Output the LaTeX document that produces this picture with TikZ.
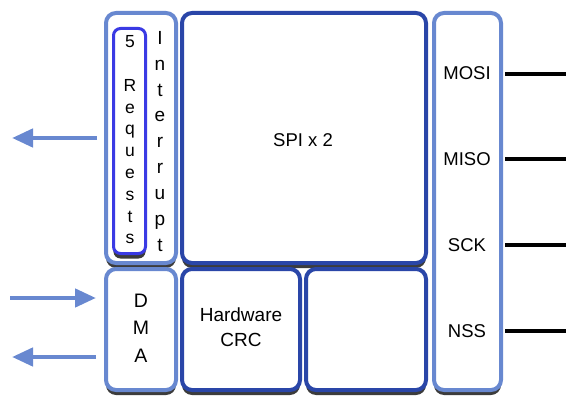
\documentclass[tikz,border=0pt]{standalone}
\usepackage{fontspec}
\setmainfont{Liberation Sans}
\usetikzlibrary{arrows.meta,shadows}
\definecolor{lightblue}{RGB}{104,136,208}
\definecolor{darkblue}{RGB}{42,70,168}
\definecolor{reqblue}{RGB}{58,58,228}
\definecolor{shadowgray}{RGB}{60,60,60}
\tikzset{
  box/.style={draw, line width=4pt, rounded corners=10pt, fill=white,
    drop shadow={shadow xshift=0pt, shadow yshift=-5pt, fill=shadowgray, opacity=1},
    inner sep=0pt, align=center},
  lbox/.style={box, draw=lightblue},
  dbox/.style={box, draw=darkblue},
  txt/.style={font=\fontsize{18.5}{20}\selectfont, align=center, inner sep=0pt},
  pin/.style={line width=4pt, black},
  bigarrow/.style={line width=4.5pt, lightblue, -{Triangle[length=21pt,width=18pt]}}
}
\begin{document}
\begin{tikzpicture}[x=1pt,y=-1pt]
\useasboundingbox (0,0) rectangle (567,398);
% boxes
\node[lbox, minimum width=70pt, minimum height=250pt] (intr) at (141,138) {};
\node[box, draw=reqblue, line width=3pt, rounded corners=7pt, minimum width=32pt, minimum height=225pt,
  drop shadow={shadow xshift=0pt, shadow yshift=-4pt, fill=shadowgray, opacity=1}] (req) at (129.5,141) {};
\node[dbox, minimum width=244pt, minimum height=250pt] (spi) at (304,138) {};
\node[lbox, minimum width=67pt, minimum height=377pt] (pins) at (467.5,201.5) {};
\node[lbox, minimum width=70pt, minimum height=121pt] (dma) at (141,329.5) {};
\node[dbox, minimum width=118pt, minimum height=121pt] (crc) at (241,329.5) {};
\node[dbox, minimum width=120pt, minimum height=121pt] (empty) at (366,329.5) {};
% texts
\node[txt, font=\fontsize{19}{25.9}\selectfont, anchor=north] (intrtxt) at (160,31) {I\\n\\t\\e\\r\\r\\u\\p\\t};
\node[txt, font=\fontsize{17.5}{21.8}\selectfont, anchor=north] (reqtxt) at (130,35.5) {5\\[0pt]\strut\\R\\e\\q\\u\\e\\s\\t\\s};
\node[txt] (spitxt) at (303,140) {SPI x 2};
\node[txt, font=\fontsize{19.5}{27.5}\selectfont] (dmatxt) at (141,328) {D\\M\\A};
\node[txt, font=\fontsize{19}{25}\selectfont] (crctxt) at (241,327) {Hardware\\CRC};
\node[txt] (mosi) at (467,73) {MOSI};
\node[txt] (miso) at (467,159) {MISO};
\node[txt] (sck) at (467,245) {SCK};
\node[txt] (nss) at (467,331) {NSS};
% pin lines
\coordinate (mosiend) at (566,74);
\coordinate (misoend) at (566,159);
\coordinate (sckend) at (566,245);
\coordinate (nssend) at (566,331);
\draw[pin] (pins.east |- mosiend) ++(2,0) -- (mosiend);
\draw[pin] (pins.east |- misoend) ++(2,0) -- (misoend);
\draw[pin] (pins.east |- sckend) ++(2,0) -- (sckend);
\draw[pin] (pins.east |- nssend) ++(2,0) -- (nssend);
% arrows
\coordinate (a1) at (12,138);
\coordinate (a2in) at (10,298);
\coordinate (a3) at (12,357);
\draw[bigarrow] (intr.west |- a1) ++(-7,0) -- (a1);
\draw[bigarrow] (a2in) -- ([xshift=-8pt]dma.west |- a2in);
\draw[bigarrow] (dma.west |- a3) ++(-8,0) -- (a3);
\end{tikzpicture}
\end{document}
